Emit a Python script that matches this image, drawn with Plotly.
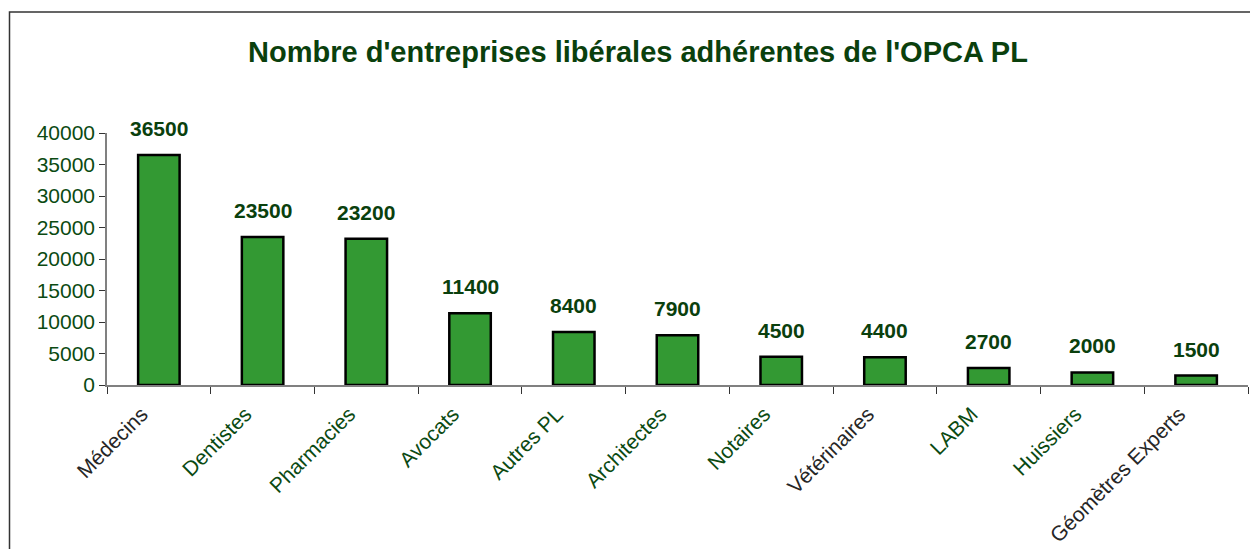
import plotly.graph_objects as go

categories = ["Médecins", "Dentistes", "Pharmacies", "Avocats", "Autres PL", "Architectes",
              "Notaires", "Vétérinaires", "LABM", "Huissiers", "Géomètres Experts"]
values = [36500, 23500, 23200, 11400, 8400, 7900, 4500, 4400, 2700, 2000, 1500]
label_colors = ["#262626", "#0b4a12", "#0b4a12", "#0b4a12", "#0b4a12", "#0b4a12",
                "#0b4a12", "#262626", "#0b4a12", "#0b4a12", "#262626"]
title_text = "Nombre d'entreprises libérales adhérentes de l'OPCA PL"

FONT = "Liberation Sans, Arial, sans-serif"
GREEN_TXT = "#0b4a12"

# page body has an 8px margin; figure is sized to fit the 1258x549 window
W, H = 1250, 541
L, R, T, B = 99, 10, 125, 164

fig = go.Figure()
fig.add_trace(go.Bar(
    x=categories, y=values, width=0.4,
    marker=dict(color="#339933", line=dict(color="#000000", width=2.5)),
    hoverinfo="x+y",
))

for c, v in zip(categories, values):
    fig.add_annotation(x=c, y=v, text=f"<b>{v}</b>", showarrow=False,
                       yanchor="bottom", yshift=13,
                       font=dict(family=FONT, size=21, color="#0a400d"))

ticktext = [f"<span style='color:{col}'>{c}</span>" for c, col in zip(categories, label_colors)]

fig.update_layout(
    width=W, height=H,
    margin=dict(l=L, r=R, t=T, b=B, autoexpand=False),
    paper_bgcolor="white", plot_bgcolor="white",
    showlegend=False,
    font=dict(family=FONT, size=21, color=GREEN_TXT),
    title=dict(text=f"<b>{title_text}</b>", xref="container", x=0.504, xanchor="center",
               yref="container", y=1 - 44 / H, yanchor="middle",
               font=dict(family=FONT, size=29, color="#0a400d")),
    bargap=0.6,
)
fig.update_xaxes(
    tickmode="array", tickvals=categories, ticktext=ticktext, automargin=False,
    tickangle=-45, tickson="boundaries", ticks="outside", ticklen=7, tickcolor="#333333",
    showline=True, linecolor="#808080", linewidth=1.5, showgrid=False,
    tickfont=dict(family=FONT, size=21), ticklabelstandoff=7, ticklabelshift=-17,
)
fig.update_yaxes(
    range=[0, 40000], dtick=5000, tick0=0, tickformat="d", automargin=False,
    ticks="outside", ticklen=6, tickcolor="#333333",
    showline=True, linecolor="#808080", linewidth=1.5, showgrid=False, zeroline=False,
    tickfont=dict(family=FONT, size=21, color=GREEN_TXT),
)

# chart frame
pw, ph = W - L - R, H - T - B
fig.add_shape(type="rect", xref="paper", yref="paper",
              x0=(1.5 - L) / pw, x1=(W + 10 - L) / pw,
              y0=(T + ph - (H + 10)) / ph, y1=(T + ph - 4) / ph,
              line=dict(color="#333333", width=1.5), fillcolor="rgba(0,0,0,0)", layer="below")

fig.write_html("out.html")
